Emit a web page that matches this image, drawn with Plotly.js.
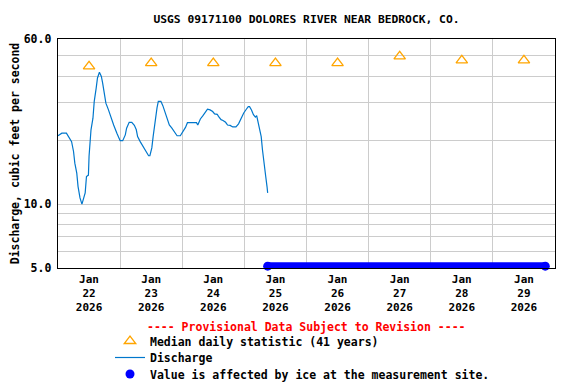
<!DOCTYPE html>
<html>
<head>
<meta charset="utf-8">
<script src="https://cdn.plot.ly/plotly-3.0.1.min.js"></script>
<style>html,body{margin:0;padding:0;background:#fff;}#chart{width:576px;height:384px;}</style>
</head>
<body>
<div id="chart"></div>
<script>
// ---- Data ----
const chartTitle = "USGS 09171100 DOLORES RIVER NEAR BEDROCK, CO.";
const yAxisTitle = "Discharge, cubic feet per second";
const provisionalNote = "---- Provisional Data Subject to Revision ----";

const dischargeTimes = [
  "2026-01-22 00:00","2026-01-22 01:30","2026-01-22 03:15","2026-01-22 04:00","2026-01-22 05:15",
  "2026-01-22 06:00","2026-01-22 06:30","2026-01-22 07:15","2026-01-22 07:45","2026-01-22 08:30",
  "2026-01-22 09:15","2026-01-22 09:45","2026-01-22 10:30","2026-01-22 11:00","2026-01-22 11:45",
  "2026-01-22 12:00","2026-01-22 12:45","2026-01-22 13:30","2026-01-22 14:00","2026-01-22 14:45",
  "2026-01-22 15:15","2026-01-22 16:00","2026-01-22 16:45","2026-01-22 17:15","2026-01-22 18:00",
  "2026-01-22 18:30","2026-01-22 19:30","2026-01-22 20:30","2026-01-22 21:30","2026-01-22 22:45",
  "2026-01-23 00:00","2026-01-23 01:00","2026-01-23 02:00","2026-01-23 02:30","2026-01-23 03:30",
  "2026-01-23 04:30","2026-01-23 05:30","2026-01-23 06:15","2026-01-23 06:45","2026-01-23 07:45",
  "2026-01-23 08:45","2026-01-23 09:45","2026-01-23 10:30","2026-01-23 11:00","2026-01-23 11:30",
  "2026-01-23 12:15","2026-01-23 12:45","2026-01-23 13:30","2026-01-23 14:15","2026-01-23 14:45",
  "2026-01-23 15:45","2026-01-23 16:30","2026-01-23 17:30","2026-01-23 18:00","2026-01-23 19:00",
  "2026-01-23 20:00","2026-01-23 21:00","2026-01-23 22:00","2026-01-23 23:15","2026-01-24 00:15",
  "2026-01-24 01:15","2026-01-24 02:00","2026-01-24 03:45","2026-01-24 05:30","2026-01-24 06:00",
  "2026-01-24 07:00","2026-01-24 08:00","2026-01-24 09:00","2026-01-24 09:45","2026-01-24 10:45",
  "2026-01-24 11:45","2026-01-24 12:30","2026-01-24 13:30","2026-01-24 14:00","2026-01-24 15:00",
  "2026-01-24 15:45","2026-01-24 16:45","2026-01-24 17:30","2026-01-24 18:30","2026-01-24 19:30",
  "2026-01-24 20:45","2026-01-24 21:45","2026-01-24 22:45","2026-01-24 23:45","2026-01-25 00:45",
  "2026-01-25 01:30","2026-01-25 02:00","2026-01-25 02:45","2026-01-25 03:30","2026-01-25 04:15",
  "2026-01-25 04:45","2026-01-25 05:15","2026-01-25 05:45","2026-01-25 06:30","2026-01-25 07:00",
  "2026-01-25 07:45","2026-01-25 08:15","2026-01-25 08:45","2026-01-25 09:00"
];
const dischargeValues = [
  21.0,21.6,21.6,20.8,19.7,
  17.7,15.6,14.0,12.1,10.7,
  10.0,10.5,11.3,13.5,13.7,
  16.8,22.4,25.4,30.5,35.2,
  39.3,41.8,40.0,37.2,33.4,
  29.9,27.8,25.4,23.6,21.6,
  19.9,19.9,21.2,22.8,24.3,
  24.3,23.5,22.4,20.8,19.7,
  18.8,18.2,17.5,16.9,16.9,
  18.4,20.8,25.0,28.4,30.5,
  30.5,29.1,26.9,25.4,23.6,
  22.8,22.0,21.0,21.0,22.0,
  23.0,24.2,24.2,24.2,23.6,
  25.2,26.1,27.0,28.0,27.8,
  27.3,26.6,26.5,25.9,25.0,
  24.8,24.3,23.6,23.5,23.1,
  23.1,23.9,25.4,26.9,28.0,
  28.8,28.8,27.8,26.4,25.7,
  26.1,24.5,23.2,20.8,18.0,
  15.6,13.5,12.1,11.3
];

const medianDates = ["2026-01-22 12:00","2026-01-23 12:00","2026-01-24 12:00","2026-01-25 12:00",
                     "2026-01-26 12:00","2026-01-27 12:00","2026-01-28 12:00","2026-01-29 12:00"];
const medianValues = [44.6, 46.2, 46.2, 46.2, 46.2, 49.7, 47.6, 47.6];

// Ice-affected period (start, end) at the bottom of the scale
const iceTimes = ["2026-01-25 09:00", "2026-01-29 20:15"];
const iceValues = [5.1, 5.1];

const xTickVals = medianDates;
const xTickText = ["Jan<br>22<br>2026","Jan<br>23<br>2026","Jan<br>24<br>2026","Jan<br>25<br>2026",
                   "Jan<br>26<br>2026","Jan<br>27<br>2026","Jan<br>28<br>2026","Jan<br>29<br>2026"];
const yTickVals = [5,6,7,8,9,10,20,30,40,50,60];
const yTickText = ["5.0","","","","","10.0","","","","","60.0"];

// ---- Plot ----
const FONT = "'DejaVu Sans Mono', monospace";
const traces = [
  {
    x: medianDates, y: medianValues, type: "scatter", mode: "markers",
    name: "Median daily statistic (41 years)", legend: "legend",
    marker: {symbol: "triangle-up-open", size: 10, color: "#FFA500", line: {width: 1.3, color: "#FFA500"}},
    cliponaxis: false
  },
  {
    x: dischargeTimes, y: dischargeValues, type: "scatter", mode: "lines",
    name: "Discharge", legend: "legend2",
    line: {color: "#0077CC", width: 1.2}
  },
  {
    x: iceTimes, y: iceValues, type: "scatter", mode: "lines",
    showlegend: false, legendgroup: "ice", legend: "legend3", hoverinfo: "skip",
    line: {color: "#0000FF", width: 8}, cliponaxis: false
  },
  {
    x: iceTimes, y: iceValues, type: "scatter", mode: "markers",
    name: "Value is affected by ice at the measurement site.", legendgroup: "ice", legend: "legend3",
    marker: {symbol: "circle", size: 9, color: "#0000FF"}, cliponaxis: false
  }
];

function legendAt(topPx) {
  return {
    x: (110 - 58) / 497, xref: "paper", xanchor: "left",
    y: -(topPx - 268) / 229, yref: "paper", yanchor: "top",
    bgcolor: "rgba(0,0,0,0)", borderwidth: 0,
    font: {family: FONT, size: 11.5, color: "#000", weight: "bold"}
  };
}

const layout = {
  width: 576, height: 384,
  margin: {l: 58, r: 21, t: 39, b: 116, pad: 0, autoexpand: false},
  paper_bgcolor: "#fff", plot_bgcolor: "#fff",
  font: {family: FONT, size: 11.5, color: "#000", weight: "bold"},
  title: {
    text: chartTitle, x: 0.5, xref: "paper", y: 1 - 19/384, yref: "container", yanchor: "middle",
    font: {family: FONT, size: 11.3, color: "#000", weight: "bold"}
  },
  showlegend: true,
  legend: legendAt(326.5),
  legend2: legendAt(343),
  legend3: legendAt(359.5),
  xaxis: {
    type: "date",
    range: ["2026-01-22 00:00", "2026-01-30 00:00"],
    tickmode: "array", tickvals: xTickVals, ticktext: xTickText,
    ticks: "", showgrid: false, zeroline: false,
    showline: true, mirror: true, linecolor: "#000", linewidth: 1.3,
    tickfont: {family: FONT, size: 11, color: "#000", weight: "bold"},
    minor: {dtick: 86400000, tick0: "2026-01-22 00:00", showgrid: true, gridcolor: "#cccccc", gridwidth: 1, ticks: ""},
    fixedrange: true
  },
  yaxis: {
    type: "log",
    range: [Math.log10(5), Math.log10(60)],
    tickmode: "array", tickvals: yTickVals, ticktext: yTickText,
    ticks: "", showgrid: true, gridcolor: "#cccccc", gridwidth: 1, zeroline: false,
    showline: true, mirror: true, linecolor: "#000", linewidth: 1.3,
    tickfont: {family: FONT, size: 11.5, color: "#000", weight: "bold"},
    ticklabelstandoff: 3,
    title: {text: yAxisTitle, font: {family: FONT, size: 11.5, color: "#000", weight: "bold"}},
    fixedrange: true
  },
  annotations: [
    {
      text: provisionalNote, xref: "paper", yref: "paper", x: 0.5, y: -(327 - 268) / 229,
      xanchor: "center", yanchor: "middle", showarrow: false,
      font: {family: FONT, size: 11.5, color: "#FF0000", weight: "bold"}
    }
  ]
};

Plotly.newPlot("chart", traces, layout, {displayModeBar: false, staticPlot: true});
</script>
</body>
</html>
